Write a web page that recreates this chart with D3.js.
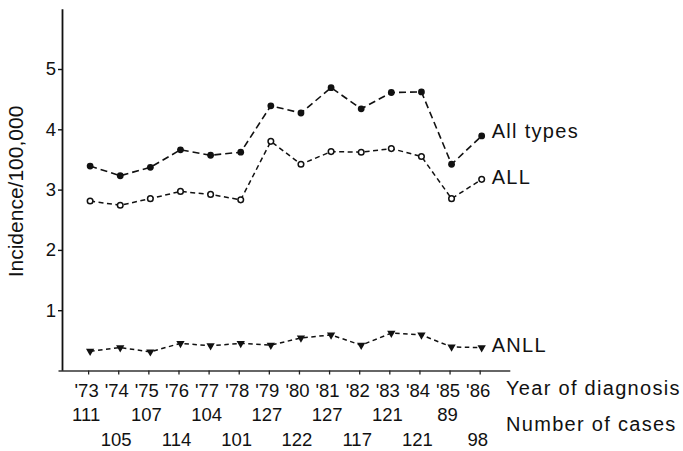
<!DOCTYPE html>
<html>
<head>
<meta charset="utf-8">
<script src="https://cdn.jsdelivr.net/npm/d3@7"></script>
<style>
  html, body { margin: 0; padding: 0; background: #fff; }
  svg { display: block; font-family: "Liberation Sans", Arial, Helvetica, sans-serif; }
</style>
</head>
<body>
<svg id="chart" width="683" height="451"></svg>
<script>
// Childhood leukaemia incidence per 100,000 by year of diagnosis
const years = [1973, 1974, 1975, 1976, 1977, 1978, 1979, 1980, 1981, 1982, 1983, 1984, 1985, 1986];
const yearLabels = ["'73", "'74", "'75", "'76", "'77", "'78", "'79", "'80", "'81", "'82", "'83", "'84", "'85", "'86"];
const allTypes = [3.39, 3.23, 3.37, 3.66, 3.57, 3.62, 4.39, 4.27, 4.69, 4.34, 4.61, 4.62, 3.42, 3.89];
const allSeries = [2.81, 2.74, 2.85, 2.97, 2.92, 2.83, 3.80, 3.42, 3.63, 3.62, 3.68, 3.55, 2.85, 3.17];
const anll = [0.32, 0.38, 0.31, 0.45, 0.41, 0.45, 0.42, 0.54, 0.59, 0.42, 0.62, 0.59, 0.39, 0.38];
const cases = [111, 105, 107, 114, 104, 101, 127, 122, 127, 117, 121, 121, 89, 98];
const yTicks = [1, 2, 3, 4, 5];

const svg = d3.select("#chart");

const x = d3.scaleLinear().domain([1972, 1987]).range([60, 511.8]);
const y = d3.scaleLinear().domain([0, 6]).range([370.5, 8.7]);

// y axis
const yAxis = svg.append("g")
  .attr("transform", `translate(${x(1972) + 2},0)`)
  .call(d3.axisLeft(y).tickValues(yTicks).tickSize(4).tickPadding(2).tickSizeOuter(0).tickFormat(d3.format("d")));
yAxis.select(".domain").attr("stroke", "#111").attr("stroke-width", 1.8);
yAxis.selectAll(".tick line").attr("stroke", "#111").attr("stroke-width", 1.4);
yAxis.selectAll(".tick text")
  .attr("fill", "#111")
  .style("font-size", "18.5px")
  .style("font-family", "'Liberation Sans', Arial, sans-serif");

// x axis with year labels
const xAxis = svg.append("g")
  .attr("transform", `translate(-2,${y(0)})`)
  .call(d3.axisBottom(x).tickValues(years).tickSize(4).tickPadding(9).tickSizeOuter(0)
    .tickFormat((d, i) => yearLabels[i]));
xAxis.select(".domain").attr("stroke", "#333").attr("stroke-width", 1.6);
xAxis.selectAll(".tick line").attr("stroke", "#222").attr("stroke-width", 1.3);
xAxis.selectAll(".tick text")
  .attr("fill", "#111")
  .attr("dx", -2)
  .style("font-size", "18.5px")
  .style("font-family", "'Liberation Sans', Arial, sans-serif");

// number of cases, staggered over two rows
svg.append("g").selectAll("text")
  .data(cases)
  .join("text")
  .attr("x", (d, i) => x(years[i]) - 4)
  .attr("y", (d, i) => i % 2 === 0 ? 421 : 446)
  .attr("text-anchor", "middle")
  .attr("fill", "#111")
  .style("font-size", "18.5px")
  .text(d => d);

// right-hand captions
const caption = (txt, cx, cy) => svg.append("text")
  .attr("x", cx).attr("y", cy)
  .attr("fill", "#111")
  .style("font-size", "20px")
  .style("letter-spacing", "1.3px")
  .text(txt);
caption("Year of diagnosis", 506, 395);
caption("Number of cases", 506, 431);

// y axis title
svg.append("text")
  .attr("transform", `translate(23,191.5) rotate(-90)`)
  .attr("text-anchor", "middle")
  .attr("fill", "#111")
  .style("font-size", "21px")
  .text("Incidence/100,000");

const line = d3.line().x((d, i) => x(years[i])).y(d => y(d));

// series lines
svg.append("path").datum(allTypes)
  .attr("d", line).attr("fill", "none")
  .attr("stroke", "#111").attr("stroke-width", 1.6).attr("stroke-dasharray", "7,4");
svg.append("path").datum(allSeries)
  .attr("d", line).attr("fill", "none")
  .attr("stroke", "#111").attr("stroke-width", 1.5).attr("stroke-dasharray", "5,3.5");
svg.append("path").datum(anll)
  .attr("d", line).attr("fill", "none")
  .attr("stroke", "#111").attr("stroke-width", 1.5).attr("stroke-dasharray", "4.5,3.5");

// markers
svg.append("g").selectAll("circle")
  .data(allTypes).join("circle")
  .attr("cx", (d, i) => x(years[i])).attr("cy", d => y(d))
  .attr("r", 3.4).attr("fill", "#111");

svg.append("g").selectAll("circle")
  .data(allSeries).join("circle")
  .attr("cx", (d, i) => x(years[i])).attr("cy", d => y(d))
  .attr("r", 2.8).attr("fill", "#fff").attr("stroke", "#111").attr("stroke-width", 1.5);

const tri = d3.symbol().type(d3.symbolTriangle).size(30);
svg.append("g").selectAll("path")
  .data(anll).join("path")
  .attr("d", tri)
  .attr("transform", (d, i) => `translate(${x(years[i])},${y(d)}) rotate(180)`)
  .attr("fill", "#111");

// series labels
const seriesLabel = (txt, value) => svg.append("text")
  .attr("x", x(1986) + 10).attr("y", y(value))
  .attr("dy", "0.36em")
  .attr("fill", "#111")
  .style("font-size", "20px")
  .style("letter-spacing", "1.3px")
  .text(txt);
seriesLabel("All types", 3.98);
seriesLabel("ALL", 3.22);
seriesLabel("ANLL", 0.42);
</script>
</body>
</html>
